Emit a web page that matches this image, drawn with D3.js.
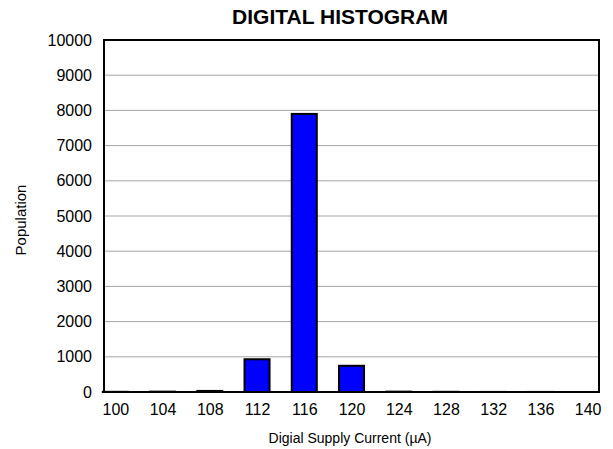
<!DOCTYPE html>
<html>
<head>
<meta charset="utf-8">
<script src="https://cdn.jsdelivr.net/npm/d3@7"></script>
<style>
  html, body { margin: 0; padding: 0; background: #fff; }
  svg { display: block; font-family: "Liberation Sans", Arial, sans-serif; }
</style>
</head>
<body>
<svg id="chart" width="613" height="449"></svg>
<script>
const categories = ["100", "104", "108", "112", "116", "120", "124", "128", "132", "136", "140"];
const population = [5, 10, 30, 930, 7900, 745, 10, 5, 2, 2, 0];
const yTicks = [0, 1000, 2000, 3000, 4000, 5000, 6000, 7000, 8000, 9000, 10000];
const title = "DIGITAL HISTOGRAM";
const xTitle = "Digial Supply Current (µA)";
const yTitle = "Population";

const svg = d3.select("#chart");
const L = 104, R = 599, T = 40, B = 392;

const x = d3.scalePoint().domain(categories).range([L, R]).padding(0.24);
const y = d3.scaleLinear().domain([0, 10000]).range([B, T]);
const barW = x.step() * 0.53;

// gridlines
svg.append("g").selectAll("line").data(yTicks.filter(d => d > 0 && d < 10000)).join("line")
  .attr("x1", L).attr("x2", R)
  .attr("y1", d => y(d)).attr("y2", d => y(d))
  .attr("stroke", "#a6a6a6").attr("stroke-width", 1);

// bars
svg.append("g").selectAll("rect").data(categories).join("rect")
  .attr("x", d => x(d) - barW / 2)
  .attr("width", barW)
  .attr("y", (d, i) => y(population[i]))
  .attr("height", (d, i) => B - y(population[i]))
  .attr("fill", "#0000ff")
  .attr("stroke", "#000")
  .attr("stroke-width", 2);

// frame
svg.append("rect").attr("x", L).attr("y", T).attr("width", R - L).attr("height", B - T)
  .attr("fill", "none").attr("stroke", "#000").attr("stroke-width", 2);

// y axis
const yAxis = d3.axisLeft(y).tickValues(yTicks).tickSize(0).tickPadding(12).tickFormat(d3.format("d"));
const gy = svg.append("g").attr("transform", `translate(${L},0)`).call(yAxis);
gy.select(".domain").remove();
gy.selectAll("text").attr("font-size", 16).attr("fill", "#000").attr("font-family", "Liberation Sans, Arial, sans-serif");

// x axis
const xAxis = d3.axisBottom(x).tickSize(0).tickPadding(12);
const gx = svg.append("g").attr("transform", `translate(0,${B})`).call(xAxis);
gx.select(".domain").remove();
gx.selectAll("text").attr("font-size", 16).attr("fill", "#000").attr("font-family", "Liberation Sans, Arial, sans-serif");

// titles
svg.append("text").attr("x", 340).attr("y", 24).attr("text-anchor", "middle")
  .attr("font-size", 21).attr("font-weight", "bold").text(title);
svg.append("text").attr("x", 350).attr("y", 443).attr("text-anchor", "middle")
  .attr("font-size", 14).text(xTitle);
svg.append("text").attr("transform", `translate(26,${(T + B) / 2 + 4}) rotate(-90)`).attr("text-anchor", "middle")
  .attr("font-size", 15).text(yTitle);
</script>
</body>
</html>
